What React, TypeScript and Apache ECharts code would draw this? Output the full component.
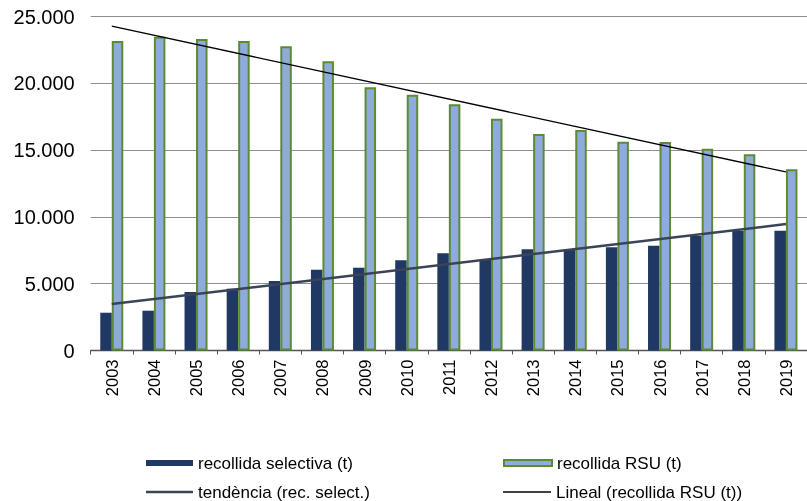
import React, { useEffect, useRef } from "react";
import * as echarts from "echarts";

const years = ["2003","2004","2005","2006","2007","2008","2009","2010","2011","2012","2013","2014","2015","2016","2017","2018","2019"];
const selectiva = [2830, 2980, 4380, 4630, 5200, 6050, 6200, 6750, 7280, 6780, 7580, 7580, 7730, 7850, 8575, 8970, 8970];
const rsu = [23180, 23500, 23330, 23180, 22780, 21660, 19710, 19160, 18440, 17360, 16220, 16510, 15640, 15620, 15110, 14690, 13570];
const trendSelectiva: [string, number][] = [["2003", 3480], ["2019", 9470]];
const trendRsu: [string, number][] = [["2003", 24300], ["2019", 13370]];
const yTicks = [0, 5000, 10000, 15000, 20000, 25000];

const nameSel = "recollida selectiva (t)";
const nameRsu = "recollida RSU (t)";
const nameTrendSel = "tendència (rec. select.)";
const nameTrendRsu = "Lineal (recollida RSU (t))";

const fmt = (v: number) => String(v).replace(/\B(?=(\d{3})+(?!\d))/g, ".");

const font = "Liberation Sans, Arial, sans-serif";

export default function App() {
  const ref = useRef<HTMLDivElement>(null);
  useEffect(() => {
    if (!ref.current) return;
    const chart = echarts.init(ref.current, undefined, { renderer: "svg" });
    const legendBase = {
      orient: "horizontal" as const,
      itemWidth: 47,
      itemGap: 5,
      selectedMode: false,
      textStyle: { fontSize: 17, color: "#000", fontFamily: font, lineHeight: 20, padding: [0, 0, 0, 0] },
      padding: 0,
    };
    chart.setOption({
      animation: false,
      textStyle: { fontFamily: font },
      grid: { left: 90.7, right: -3.7, top: 16.7, bottom: 150.5, containLabel: false },
      legend: [
        { ...legendBase, data: [{ name: nameSel, icon: "rect" }], left: 146, top: 453, itemHeight: 6 },
        { ...legendBase, data: [{ name: nameTrendSel, icon: "rect", itemStyle: { color: "#3b4456" } }], left: 146, top: 482, itemHeight: 2.5 },
        { ...legendBase, data: [{ name: nameRsu, icon: "rect" }], left: 503, top: 453, itemHeight: 6, itemWidth: 48 },
        { ...legendBase, data: [{ name: nameTrendRsu, icon: "rect", itemStyle: { color: "#000" } }], left: 503, top: 482, itemHeight: 1.3, itemWidth: 48 },
      ],
      xAxis: {
        type: "category",
        data: years,
        boundaryGap: true,
        axisLine: { show: true, lineStyle: { color: "#555", width: 1.3 } },
        axisTick: { show: true, length: 4, lineStyle: { color: "#555" } },
        axisLabel: { rotate: 90, fontSize: 16.5, color: "#000", margin: 9, fontFamily: font },
      },
      yAxis: {
        type: "value",
        min: yTicks[0],
        max: yTicks[yTicks.length - 1],
        interval: 5000,
        axisLine: { show: false },
        axisTick: { show: false },
        axisLabel: { fontSize: 20, color: "#000", margin: 16, formatter: (v: number) => fmt(v), fontFamily: font },
        splitLine: { show: true, lineStyle: { color: "#8f8f8f", width: 1 } },
      },
      series: [
        {
          name: nameSel,
          type: "bar",
          data: selectiva,
          barWidth: 11.5,
          barGap: "0%",
          itemStyle: { color: "#203864" },
        },
        {
          name: nameRsu,
          type: "bar",
          data: rsu,
          barWidth: 11.5,
          barGap: "0%",
          itemStyle: { color: "#8faadc", borderColor: "#5b8c34", borderWidth: 2 },
        },
        {
          name: nameTrendSel,
          type: "line",
          data: trendSelectiva,
          symbol: "none",
          showSymbol: false,
          itemStyle: { color: "#3b4456" },
          lineStyle: { color: "#3b4456", width: 2.5 },
          z: 5,
        },
        {
          name: nameTrendRsu,
          type: "line",
          data: trendRsu,
          symbol: "none",
          showSymbol: false,
          itemStyle: { color: "#000" },
          lineStyle: { color: "#000", width: 1.3 },
          z: 5,
        },
      ],
    });
    return () => chart.dispose();
  }, []);
  return <div ref={ref} style={{ position: "fixed", left: 0, top: 0, width: 807, height: 501 }} />;
}
